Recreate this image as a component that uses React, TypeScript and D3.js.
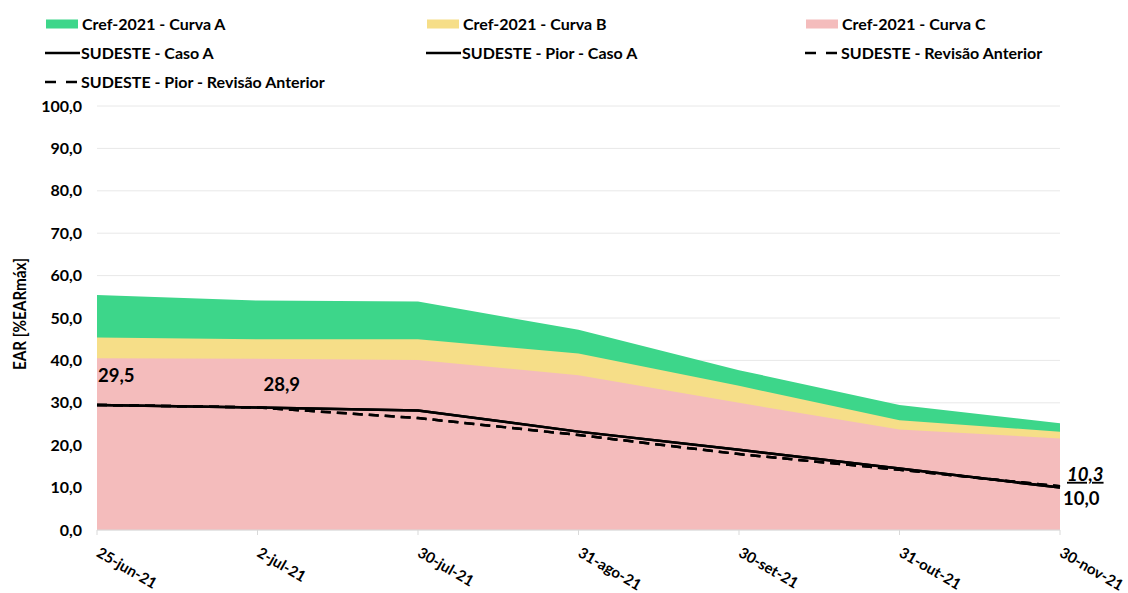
import React from "react";
import * as d3 from "d3";

const categories = ["25-jun-21", "2-jul-21", "30-jul-21", "31-ago-21", "30-set-21", "31-out-21", "30-nov-21"];
const curvaA = [55.4, 54.1, 53.9, 47.2, 37.7, 29.5, 25.2];
const curvaB = [45.4, 45.0, 45.0, 41.6, 34.0, 25.9, 23.2];
const curvaC = [40.5, 40.4, 40.1, 36.5, 30.0, 23.7, 21.6];
const casoA = [29.5, 28.9, 28.2, 23.2, 18.9, 14.5, 10.0];
const piorCasoA = [29.5, 28.9, 28.2, 23.2, 18.9, 14.5, 10.0];
const revAnterior = [29.5, 28.9, 26.4, 22.4, 17.9, 14.2, 10.3];
const piorRevAnterior = [29.5, 28.9, 26.4, 22.4, 17.9, 14.2, 10.3];
const yTicks = [0, 10, 20, 30, 40, 50, 60, 70, 80, 90, 100];

const FONT = "Lato, 'Open Sans', sans-serif";
const GREEN = "#3dd68a";
const YELLOW = "#f6de88";
const PINK = "#f4bcbc";

export default function App() {
  const W = 1128, H = 593;
  const x = d3.scalePoint<string>().domain(categories).range([97, 1060]);
  const y = d3.scaleLinear().domain([0, 100]).range([530, 106]);
  const fmt = (v: number) => v.toFixed(1).replace(".", ",");

  const area = (vals: number[]) =>
    d3.area<number>().x((_, i) => x(categories[i])!).y0(y(0)).y1((d) => y(d))(vals) || "";
  const line = (vals: number[]) =>
    d3.line<number>().x((_, i) => x(categories[i])!).y((d) => y(d))(vals) || "";

  const legendItems = [
    { label: "Cref-2021 - Curva A", type: "area", color: GREEN, x: 46, y: 24 },
    { label: "Cref-2021 - Curva B", type: "area", color: YELLOW, x: 427, y: 24 },
    { label: "Cref-2021 - Curva C", type: "area", color: PINK, x: 806, y: 24 },
    { label: "SUDESTE - Caso A", type: "solid", color: "#000", x: 45, y: 53 },
    { label: "SUDESTE - Pior - Caso A", type: "solid", color: "#000", x: 426, y: 53 },
    { label: "SUDESTE - Revisão Anterior", type: "dash", color: "#000", x: 805, y: 53 },
    { label: "SUDESTE - Pior - Revisão Anterior", type: "dash", color: "#000", x: 45, y: 82 },
  ];

  const last = categories.length - 1;

  return (
    <svg width={W} height={H} style={{ position: "absolute", left: 0, top: 0, background: "#fff" }}
      fontFamily={FONT}>
      <rect width={W} height={H} fill="#fff" />
      {/* gridlines */}
      {yTicks.map((t) => (
        <line key={t} x1={97} x2={1060} y1={y(t)} y2={y(t)} stroke="#e8e8e8" strokeWidth={1} />
      ))}
      {/* areas */}
      <path d={area(curvaA)} fill={GREEN} />
      <path d={area(curvaB)} fill={YELLOW} />
      <path d={area(curvaC)} fill={PINK} />
      {/* x axis */}
      <line x1={97} x2={1060} y1={y(0)} y2={y(0)} stroke="#d9d9d9" strokeWidth={1} />
      {categories.map((c) => (
        <line key={c} x1={x(c)} x2={x(c)} y1={y(0)} y2={y(0) + 5} stroke="#d9d9d9" />
      ))}
      {/* lines */}
      <path d={line(piorRevAnterior)} fill="none" stroke="#000" strokeWidth={2.5} strokeDasharray="10,6" />
      <path d={line(revAnterior)} fill="none" stroke="#000" strokeWidth={2.5} strokeDasharray="10,6" />
      <path d={line(piorCasoA)} fill="none" stroke="#000" strokeWidth={2.5} />
      <path d={line(casoA)} fill="none" stroke="#000" strokeWidth={2.5} />
      {/* data labels */}
      <text x={x(categories[0])! + 1} y={y(casoA[0]) - 29} dy="0.35em" fontSize={18.5} fontWeight={700} fill="#000">{fmt(casoA[0])}</text>
      <text x={x(categories[1])! + 6} y={y(casoA[1]) - 23} dy="0.35em" fontSize={18.5} fontWeight={700} fill="#000">{fmt(casoA[1])}</text>
      <text x={x(categories[last])! + 7} y={y(revAnterior[last]) - 12} dy="0.35em" fontSize={18.5} fontWeight={700}
        fontStyle="italic" textDecoration="underline" fill="#000">{fmt(revAnterior[last])}</text>
      <text x={x(categories[last])! + 3} y={y(casoA[last]) + 11} dy="0.35em" fontSize={18.5} fontWeight={700} fill="#000">{fmt(casoA[last])}</text>
      {/* y ticks */}
      {yTicks.map((t) => (
        <text key={t} x={82} y={y(t)} dy="0.35em" textAnchor="end" fontSize={16} fontWeight={700} fill="#000">{fmt(t)}</text>
      ))}
      <text transform={`translate(26,314) rotate(-90)`} textAnchor="middle" fontSize={16.5} fontWeight={700}
        fill="#000" textLength={112} lengthAdjust="spacingAndGlyphs">EAR [%EARmáx]</text>
      {/* x labels */}
      {categories.map((c) => (
        <text key={c} transform={`translate(${x(c)! + 4},${y(0) + 16}) rotate(30)`} fontSize={15}
          fontWeight={700} fill="#000" dy="0.75em">{c}</text>
      ))}
      {/* legend */}
      {legendItems.map((it) => (
        <g key={it.label} transform={`translate(${it.x},${it.y})`}>
          {it.type === "area" && <rect x={0} y={-4.5} width={32} height={9} fill={it.color} />}
          {it.type === "solid" && <line x1={0} x2={35} y1={0} y2={0} stroke="#000" strokeWidth={2.5} />}
          {it.type === "dash" && <line x1={0} x2={35} y1={0} y2={0} stroke="#000" strokeWidth={2.5} strokeDasharray="11,10" />}
          <text x={36} y={0} dy="0.35em" fontSize={16} fontWeight={700} fill="#000">{it.label}</text>
        </g>
      ))}
    </svg>
  );
}
